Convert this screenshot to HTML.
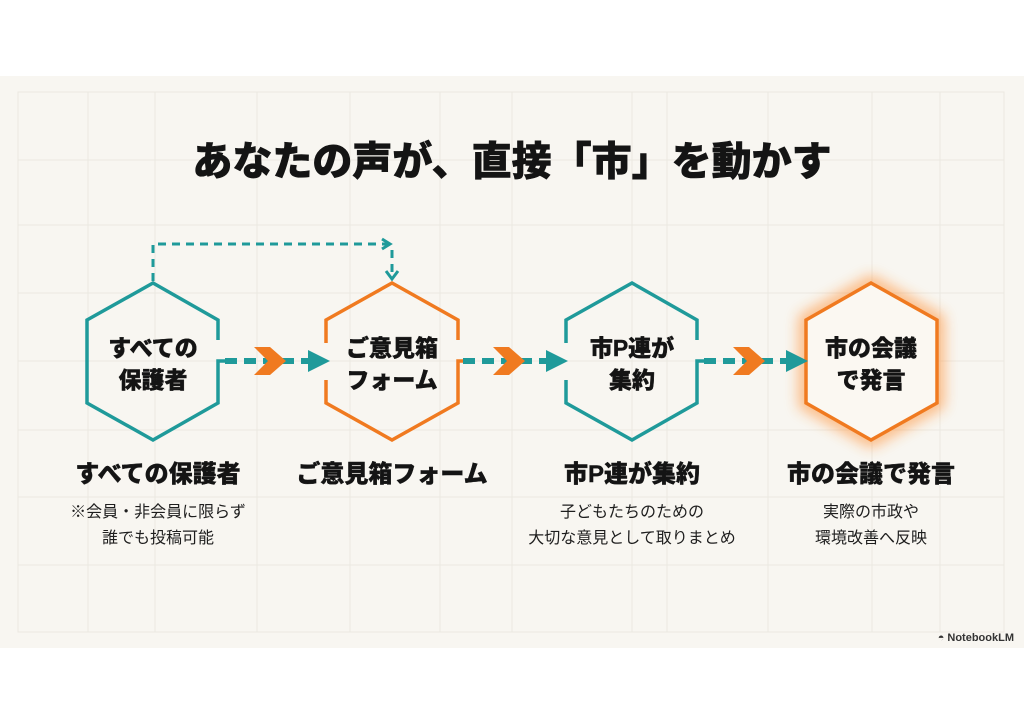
<!DOCTYPE html>
<html><head><meta charset="utf-8"><style>
html,body{margin:0;padding:0;background:#fff;}
body{width:1024px;height:724px;overflow:hidden;position:relative;font-family:"Liberation Sans","Noto Sans CJK JP",sans-serif;}
svg{position:absolute;left:0;top:0;}
</style></head><body>
<svg width="1024" height="724" viewBox="0 0 1024 724" xmlns="http://www.w3.org/2000/svg">
<defs>
<filter id="glow" x="-50%" y="-50%" width="200%" height="200%"><feGaussianBlur stdDeviation="7"/></filter>
</defs>
<rect x="0" y="76" width="1024" height="572" fill="#f8f6f1"/>
<g stroke="#ebe8e1" stroke-width="1" fill="none">
<rect x="18" y="92" width="986" height="540"/>
<path d="M88 92V632M155 92V632M257 92V632M350 92V632M440 92V632M512 92V632M632 92V632M667 92V632M768 92V632M872 92V632M940 92V632"/>
<path d="M18 160H1004M18 225H1004M18 293H1004M18 361H1004M18 430H1004M18 497H1004M18 565H1004"/>
</g>
<text x="512" y="175" text-anchor="middle" font-size="40" font-weight="900" fill="#141414" stroke="#141414" stroke-width="0.6">あなたの声が、直接「市」を動かす</text>

<g stroke="#1f9a9a" stroke-width="3" fill="none">
<path d="M153 281V244H388" stroke-dasharray="8 6"/>
<path d="M392 250V276" stroke-dasharray="8 6"/>
<path d="M382 239L390 244L382 249"/>
<path d="M386 271L392 279L398 271"/>
</g>

<polygon points="871,283 937,320 937,403 871,440 806,403 806,320" fill="none" stroke="#ff8a2a" stroke-width="14" opacity="0.6" filter="url(#glow)"/>
<polygon points="871,283 937,320 937,403 871,440 806,403 806,320" fill="#fbf8f2" stroke="#f07a20" stroke-width="3.5"/>

<g fill="none" stroke-width="3.5" stroke-linejoin="miter">
<path d="M218 340V320L153 283L87 320V403L153 440L218 403V361H225" stroke="#1f9a9a"/>
<path d="M458 340V320L392 283L326 320V343M326 380V403L392 440L458 403V361H463" stroke="#f07a20"/>
<path d="M697 340V320L632 283L566 320V343M566 380V403L632 440L697 403V361H704" stroke="#1f9a9a"/>
</g>

<g stroke="#1f9a9a" stroke-width="6" stroke-dasharray="12 7" fill="none">
<path d="M225 361H312"/>
<path d="M463 361H550"/>
<path d="M704 361H790"/>
</g>
<g fill="#1f9a9a">
<polygon points="308,350 330,361 308,372"/>
<polygon points="546,350 568,361 546,372"/>
<polygon points="786,350 808,361 786,372"/>
</g>
<g fill="#f07a20">
<polygon points="254,347 270,347 286,361 270,375 254,375 268,361"/>
<polygon points="493,347 509,347 525,361 509,375 493,375 507,361"/>
<polygon points="733,347 749,347 765,361 749,375 733,375 747,361"/>
</g>

<g font-size="23" font-weight="900" fill="#141414" text-anchor="middle" stroke="#141414" stroke-width="0.4">
<text x="153" y="356">すべての</text><text x="153" y="388">保護者</text>
<text x="392" y="356">ご意見箱</text><text x="392" y="388">フォーム</text>
<text x="632" y="356">市P連が</text><text x="632" y="388">集約</text>
<text x="871" y="356">市の会議</text><text x="871" y="388">で発言</text>
</g>
<g font-size="24" font-weight="900" fill="#141414" text-anchor="middle" stroke="#141414" stroke-width="0.4">
<text x="158" y="482">すべての保護者</text>
<text x="392" y="482">ご意見箱フォーム</text>
<text x="632" y="482">市P連が集約</text>
<text x="871" y="482">市の会議で発言</text>
</g>
<g font-size="16" fill="#1e1e1e" text-anchor="middle">
<text x="158" y="517">※会員・非会員に限らず</text>
<text x="158" y="543">誰でも投稿可能</text>
<text x="632" y="517">子どもたちのための</text>
<text x="632" y="543">大切な意見として取りまとめ</text>
<text x="871" y="517">実際の市政や</text>
<text x="871" y="543">環境改善へ反映</text>
</g>
<text x="1014" y="641" text-anchor="end" font-size="11" font-weight="bold" fill="#333">◓ NotebookLM</text>
</svg>
</body></html>
